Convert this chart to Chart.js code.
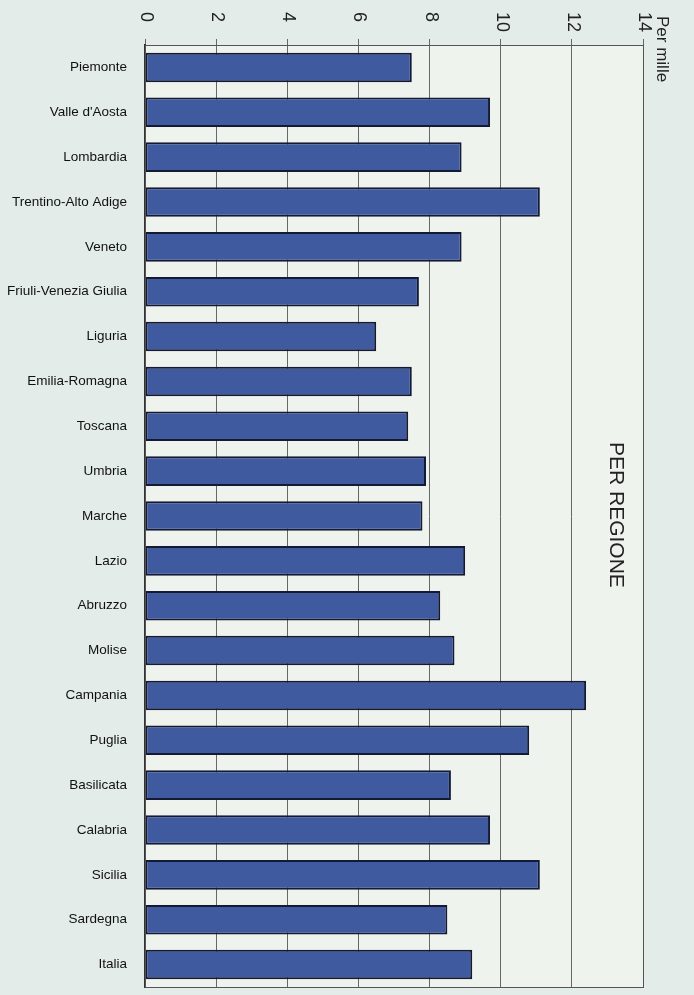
<!DOCTYPE html>
<html>
<head>
<meta charset="utf-8">
<script src="https://cdn.jsdelivr.net/npm/chart.js@4"></script>
<style>
  html, body { margin: 0; padding: 0; background: #e3ece8; overflow: hidden; }
  #wrap { width: 694px; height: 995px; position: relative; }
</style>
</head>
<body>
<div id="wrap"><canvas id="chart"></canvas></div>
<script>
// Per mille, per regione
const REGIONS = [
  "Piemonte", "Valle d'Aosta", "Lombardia", "Trentino-Alto Adige", "Veneto",
  "Friuli-Venezia Giulia", "Liguria", "Emilia-Romagna", "Toscana", "Umbria",
  "Marche", "Lazio", "Abruzzo", "Molise", "Campania", "Puglia", "Basilicata",
  "Calabria", "Sicilia", "Sardegna", "Italia",
];
const VALUES = [
  7.5, 9.7, 8.9, 11.1, 8.9,
  7.7, 6.5, 7.5, 7.4, 7.9,
  7.8, 9.0, 8.3, 8.7, 12.4, 10.8, 8.6,
  9.7, 11.1, 8.5, 9.2,
];
const X_MIN = 0, X_MAX = 14, X_STEP = 2;
const UNIT_LABEL = "Per mille";
const PANEL_TITLE = "PER REGIONE";

const FONT = "'Liberation Sans', Arial, sans-serif";

// sfondo, cornice ed etichette ruotate (lette dall'alto in basso)
const decor = {
  id: "decor",
  beforeDraw(chart) {
    const { ctx, chartArea: a } = chart;
    ctx.save();
    ctx.fillStyle = "#eff3ee";
    ctx.fillRect(a.left, a.top, a.right - a.left, a.bottom - a.top);
    ctx.restore();
  },
  afterDraw(chart) {
    const { ctx, chartArea: a } = chart;
    const xs = chart.scales.x;
    ctx.save();
    ctx.strokeStyle = "#555";
    ctx.lineWidth = 1;
    ctx.strokeRect(a.left + 0.5, a.top + 0.5, a.right - a.left, a.bottom - a.top);

    ctx.fillStyle = "#222";
    ctx.font = `18px ${FONT}`;
    ctx.textAlign = "left";
    ctx.textBaseline = "middle";
    for (const t of xs.ticks) {
      const x = xs.getPixelForValue(t.value);
      ctx.save();
      ctx.translate(x + 1, 12);
      ctx.rotate(Math.PI / 2);
      ctx.fillText(String(t.value), 0, 0);
      ctx.restore();
    }

    ctx.font = `17px ${FONT}`;
    ctx.save();
    ctx.translate(a.right + 19, 16);
    ctx.rotate(Math.PI / 2);
    ctx.fillText(UNIT_LABEL, 0, 0);
    ctx.restore();

    ctx.font = `21px ${FONT}`;
    ctx.save();
    ctx.translate(a.right - 27, 442);
    ctx.rotate(Math.PI / 2);
    ctx.fillText(PANEL_TITLE, 0, 0);
    ctx.restore();
    ctx.restore();
  },
};

new Chart(document.getElementById("chart"), {
  type: "bar",
  data: {
    labels: REGIONS,
    datasets: [{
      data: VALUES,
      backgroundColor: "#3f5a9f",
      borderColor: "#141a33",
      borderWidth: 2,
      borderSkipped: false,
      barPercentage: 0.66,
      categoryPercentage: 1,
    }],
  },
  options: {
    indexAxis: "y",
    responsive: true,
    maintainAspectRatio: false,
    animation: false,
    layout: { padding: { top: 0, right: 51, bottom: 8, left: 0 } },
    plugins: { legend: { display: false }, tooltip: { enabled: false } },
    scales: {
      x: {
        position: "top",
        min: X_MIN,
        max: X_MAX,
        ticks: { stepSize: X_STEP, display: false },
        grid: { color: "#666", lineWidth: 1, tickLength: 6 },
        border: { display: true, color: "#555" },
        afterFit(s) {
          s.height = 45;
          s.paddingLeft = 0; s.paddingRight = 0;
        },
      },
      y: {
        grid: { display: false },
        border: { display: true, color: "#333", width: 2 },
        ticks: {
          color: "#111",
          font: { family: FONT, size: 13.5 },
          padding: 10,
          autoSkip: false,
        },
        afterFit(s) {
          s.width = 145;
          s.paddingTop = 0; s.paddingBottom = 0;
        },
      },
    },
  },
  plugins: [decor],
});
</script>
</body>
</html>
